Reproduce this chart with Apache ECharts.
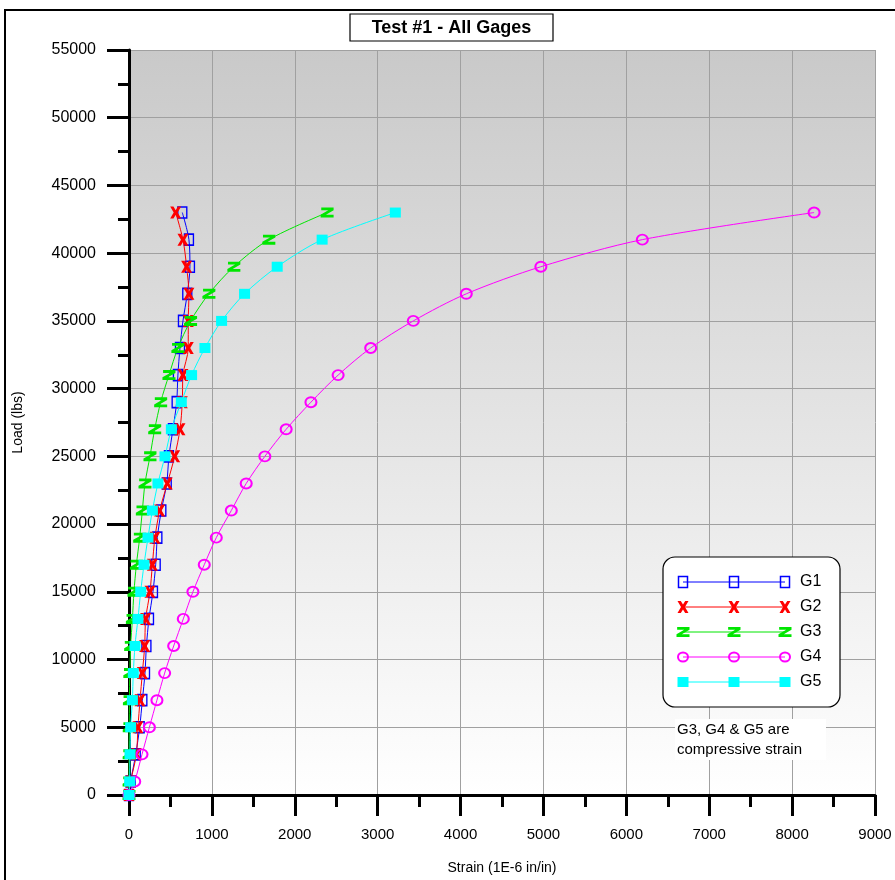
<!DOCTYPE html>
<html><head><meta charset="utf-8">
<script src="https://cdn.jsdelivr.net/npm/echarts@6/dist/echarts.min.js"></script>
<style>html,body{margin:0;padding:0;background:#fff}#chart{width:895px;height:880px}</style>
</head><body><div id="chart"></div>
<script>
// Load (lbs) values, common to all gages
const loads = [0,1000,3000,5000,7000,9000,11000,13000,15000,17000,19000,21000,23000,25000,27000,29000,31000,33000,35000,37000,39000,41000,43000];
// Strain (1E-6 in/in) per gage
const g1 = [0,20,81,129,161,193,210,241,289,322,342,390,455,482,530,575,590,615,651,703,735,723,643];
const g2 = [0,20,89,108,133,161,189,201,253,282,313,370,462,551,615,643,651,715,715,723,695,651,563];
const g3 = [0,1,2,3,5,10,20,41,60,89,129,161,193,253,310,382,482,590,743,964,1265,1687,2390];
const g4 = [0,69,157,246,337,430,539,655,771,908,1053,1234,1414,1639,1896,2195,2523,2916,3430,4069,4969,6193,8265];
const g5 = [0,8,12,20,41,52,72,108,141,181,229,282,349,434,511,631,755,916,1117,1394,1788,2330,3213];
const seriesNames = ['G1','G2','G3','G4','G5'];
const seriesValues = [g1,g2,g3,g4,g5];
const titleText = 'Test #1 - All Gages';
const xName = 'Strain (1E-6 in/in)';
const yName = 'Load (lbs)';
const noteLines = ['G3, G4 & G5 are','compressive strain'];

const FONT = '"Liberation Sans", Arial, sans-serif';
const PTS_X = [[0,0],[3,0],[5,3],[7,0],[10,0],[6.8,5],[10,10],[7,10],[5,7],[3,10],[0,10],[3.2,5]];
const PTS_Z = [[0.5,0],[10,0],[10,2.8],[4.1,7.2],[10,7.2],[10,10],[0,10],[0,7.2],[5.9,2.8],[0.5,2.8]];
const toPath = pts => 'path://M' + pts.map(p=>p[0]+','+p[1]).join(' L') + ' Z';
const toPoly = (pts, x0, y0, w, h) => pts.map(p=>[x0 + p[0]*w/10, y0 + p[1]*h/10]);

const styles = [
  {color:'#0000ff', symbol:'rect', size:[9,11], item:{color:'rgba(0,0,0,0)', borderColor:'#0000ff', borderWidth:1.5}},
  {color:'#ff0000', symbol:toPath(PTS_X), size:[11,12], item:{color:'#ff0000'}},
  {color:'#00e600', symbol:toPath(PTS_Z), size:[13,10], item:{color:'#00e600'}},
  {color:'#ff00ff', symbol:'circle', size:[11,10], item:{color:'rgba(0,0,0,0)', borderColor:'#ff00ff', borderWidth:2}},
  {color:'#00ffff', symbol:'rect', size:[11,10], item:{color:'#00ffff'}}
];

const series = seriesNames.map((n,i)=>({
  name:n, type:'line', smooth:0.3,
  data: loads.map((l,k)=>[seriesValues[i][k], l]),
  symbol: styles[i].symbol, symbolSize: styles[i].size, showAllSymbol:true,
  lineStyle:{color:styles[i].color, width:1},
  itemStyle: styles[i].item,
  emphasis:{disabled:true}, z: 3+i
}));

// Graphic: frame, title box, legend box, note
const graphic = [];
graphic.push({type:'rect', shape:{x:5,y:10,width:1000,height:1000}, style:{fill:'none', stroke:'#000', lineWidth:2}, z:1});
graphic.push({type:'rect', shape:{x:350,y:14,width:203,height:27}, style:{fill:'#fff', stroke:'#000', lineWidth:1.2}, z:10});
graphic.push({type:'text', x:451.5, y:28, style:{text:titleText, fill:'#000', font:'bold 18px '+FONT, align:'center', verticalAlign:'middle'}, z:11});

graphic.push({type:'rect', shape:{x:663,y:557,width:177,height:150,r:12}, style:{fill:'#fff', stroke:'#000', lineWidth:1.2}, z:10});
const lx = [683,734,785];
seriesNames.forEach((n,i)=>{
  const y = 582 + 25*i;
  const c = styles[i].color;
  graphic.push({type:'line', shape:{x1:683,y1:y,x2:785,y2:y}, style:{stroke:c, lineWidth:1}, z:11});
  lx.forEach(x=>{
    let el;
    if (i===0) el = {type:'rect', shape:{x:x-4.5,y:y-5.5,width:9,height:11}, style:{fill:'none', stroke:c, lineWidth:1.5}};
    else if (i===1) el = {type:'polygon', shape:{points:toPoly(PTS_X, x-5.5, y-6, 11, 12)}, style:{fill:c}};
    else if (i===2) el = {type:'polygon', shape:{points:toPoly(PTS_Z, x-6.5, y-5, 13, 10)}, style:{fill:c}};
    else if (i===3) el = {type:'ellipse', shape:{cx:x, cy:y, rx:5, ry:4.5}, style:{fill:'none', stroke:c, lineWidth:2}};
    else el = {type:'rect', shape:{x:x-5.5,y:y-5,width:11,height:10}, style:{fill:c}};
    el.z = 12;
    graphic.push(el);
  });
  graphic.push({type:'text', x:800, y:y, style:{text:n, fill:'#000', font:'16px '+FONT, verticalAlign:'middle'}, z:12});
});
graphic.push({type:'rect', shape:{x:675,y:719,width:151,height:41}, style:{fill:'#fff'}, z:10});
noteLines.forEach((t,i)=>{
  graphic.push({type:'text', x:677, y:730+20*i, style:{text:t, fill:'#000', font:'15px '+FONT, verticalAlign:'middle'}, z:11});
});

const plain = v => String(v);
const chart = echarts.init(document.getElementById('chart'), null, {renderer:'canvas'});
chart.setOption({
  animation:false,
  backgroundColor:'#fff',
  textStyle:{fontFamily:FONT},
  grid:{left:129, right:20, top:50, bottom:83, containLabel:false, show:true, borderWidth:0,
    backgroundColor:{type:'linear', x:0, y:0, x2:0, y2:1, colorStops:[{offset:0,color:'#c9c9c9'},{offset:1,color:'#ffffff'}]}},
  xAxis:{type:'value', min:0, max:9000, interval:1000,
    name:xName, nameLocation:'middle', nameGap:66, nameTextStyle:{fontSize:14, color:'#000', fontFamily:FONT},
    axisLine:{show:true, onZero:false, lineStyle:{color:'#000', width:3}},
    axisTick:{show:true, length:21, lineStyle:{color:'#000', width:3}},
    minorTick:{show:true, splitNumber:2, length:12, lineStyle:{color:'#000', width:3}},
    axisLabel:{fontSize:15, color:'#000', margin:32, fontFamily:FONT, formatter:plain},
    splitLine:{show:true, lineStyle:{color:'#a0a0a0', width:1}}},
  yAxis:{type:'value', min:0, max:55000, interval:5000,
    name:yName, nameLocation:'middle', nameGap:104, nameRotate:90, nameTextStyle:{fontSize:14, color:'#000', fontFamily:FONT},
    axisLine:{show:true, onZero:false, lineStyle:{color:'#000', width:3}},
    axisTick:{show:true, length:22, lineStyle:{color:'#000', width:3}},
    minorTick:{show:true, splitNumber:2, length:11, lineStyle:{color:'#000', width:3}},
    axisLabel:{fontSize:16, color:'#000', margin:33, fontFamily:FONT, formatter:plain},
    splitLine:{show:true, lineStyle:{color:'#a0a0a0', width:1}}},
  series: series,
  graphic: graphic
});
</script></body></html>
